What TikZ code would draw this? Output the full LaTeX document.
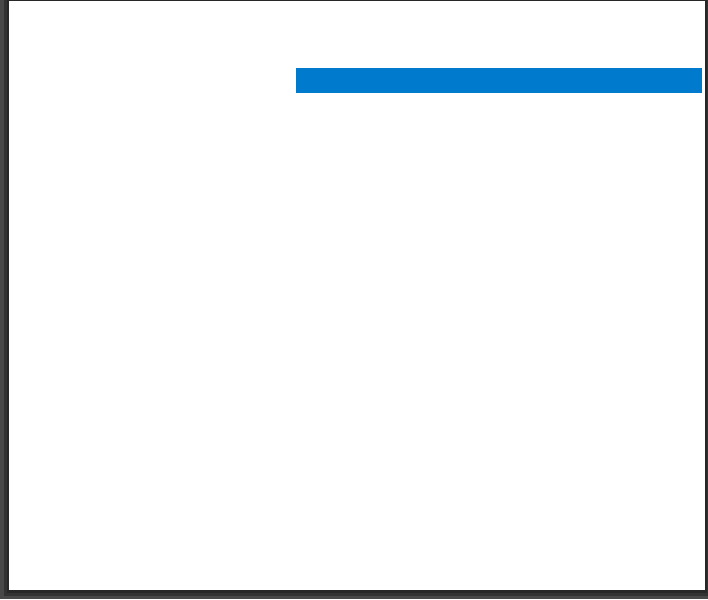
\documentclass[tikz,border=0pt]{standalone}
\definecolor{bgdark}{RGB}{72,72,72}
\definecolor{shadowc}{RGB}{30,30,30}
\definecolor{barblue}{RGB}{0,122,204}
\tikzset{page/.style={fill=white,draw=none},bar/.style={fill=barblue,draw=none}}
\begin{document}
\begin{tikzpicture}[x=1pt,y=-1pt]
\useasboundingbox (0,0) rectangle (708,599);
\fill[bgdark] (0,0) rectangle (708,599);
\fill[shadowc,opacity=0.5] (4,0) rectangle (708,596);
\fill[shadowc,opacity=0.5] (7,0) rectangle (707,593);
\node[page,minimum width=696pt,minimum height=589pt,inner sep=0pt,anchor=north west] (pg) at (9,1) {};
\node[bar,minimum width=406pt,minimum height=25pt,inner sep=0pt,anchor=north west] (hdr) at (296,67.5) {};
\end{tikzpicture}
\end{document}
